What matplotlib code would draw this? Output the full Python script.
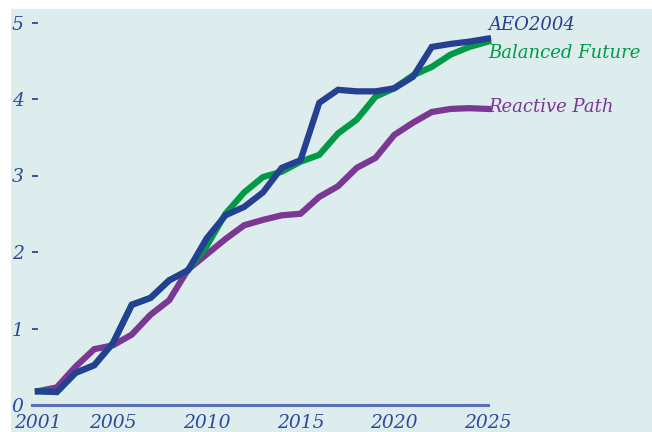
import matplotlib
matplotlib.use("Agg")
import matplotlib.pyplot as plt
from matplotlib.patches import Rectangle

years = list(range(2001, 2026))
aeo2004 = [0.18, 0.17, 0.42, 0.52, 0.81, 1.31, 1.40, 1.63, 1.76, 2.18, 2.48, 2.59, 2.78,
           3.10, 3.20, 3.95, 4.12, 4.10, 4.10, 4.14, 4.29, 4.68, 4.72, 4.75, 4.79]
balanced = [0.18, 0.17, 0.42, 0.52, 0.81, 1.31, 1.40, 1.63, 1.76, 2.08, 2.50, 2.78, 2.98,
            3.05, 3.18, 3.27, 3.55, 3.73, 4.03, 4.14, 4.31, 4.42, 4.58, 4.68, 4.75]
reactive = [0.18, 0.23, 0.50, 0.73, 0.78, 0.92, 1.18, 1.37, 1.77, 1.97, 2.17, 2.35, 2.42,
            2.48, 2.50, 2.72, 2.86, 3.10, 3.23, 3.53, 3.69, 3.83, 3.87, 3.88, 3.87]
series_names = ["AEO2004", "Balanced Future", "Reactive Path"]
xticks = [2001, 2005, 2010, 2015, 2020, 2025]
yticks = [0, 1, 2, 3, 4, 5]

BG = "#ddecec"
C_BLUE = "#253f92"
C_GREEN = "#009a46"
C_PURPLE = "#7b3794"
C_AXIS = "#5a72b5"
C_TEXT = "#2c4a9c"

W, H = 652, 432
fig = plt.figure(figsize=(W / 100, H / 100), dpi=100)
fig.patch.set_facecolor("white")
fig.patches.append(Rectangle((11 / W, 0), 1 - 11 / W, 1 - 9 / H, transform=fig.transFigure,
                             facecolor=BG, edgecolor="none", zorder=-10))

left_px, bottom_px = 32, 432 - 405
ax = fig.add_axes([left_px / W, bottom_px / H, 1 - left_px / W, (405 - 9) / H])
ax.set_facecolor("none")
ax.set_zorder(5)

px_per_year = 18.75
px_per_unit = 76.5
x0 = 2001 + (left_px - 38) / px_per_year
x1 = 2001 + (W - 38) / px_per_year
ax.set_xlim(x0, x1)
ax.set_ylim(0, (405 - 9) / px_per_unit)

ffam = "DejaVu Serif"
lw = 4.5
ax.plot(years, reactive, color=C_PURPLE, lw=lw, solid_joinstyle="miter", clip_on=False, zorder=3)
ax.plot(years, balanced, color=C_GREEN, lw=lw, solid_joinstyle="miter", clip_on=False, zorder=4)
ax.plot(years, aeo2004, color=C_BLUE, lw=lw, solid_joinstyle="miter", clip_on=False, zorder=5)

for s in ["top", "right", "left"]:
    ax.spines[s].set_visible(False)
ax.spines["bottom"].set_color(C_AXIS)
ax.spines["bottom"].set_linewidth(2.2)
ax.spines["bottom"].set_bounds(x0, 2025)

ax.set_xticks(xticks)
ax.set_xticklabels([str(t) for t in xticks], fontsize=13.5, style="italic", family=ffam, color=C_TEXT)
ax.tick_params(axis="x", length=0, pad=6.5)
ax.set_yticks(yticks)
ax.set_yticklabels([str(t) for t in yticks], fontsize=13.5, style="italic",
                   family=ffam, color=C_TEXT)
ax.tick_params(axis="y", direction="in", length=4, width=1.3, color=C_TEXT, pad=6)
ax.yaxis.get_major_ticks()[0].tick1line.set_visible(False)

lab_kw = dict(fontsize=13, style="italic", family=ffam, ha="left", va="center", clip_on=False)
ax.text(2025, 4.97, series_names[0], color=C_BLUE, **lab_kw)
ax.text(2025, 4.60, series_names[1], color=C_GREEN, **lab_kw)
ax.text(2025, 3.90, series_names[2], color=C_PURPLE, **lab_kw)

fig.savefig("out.png", dpi=100)
